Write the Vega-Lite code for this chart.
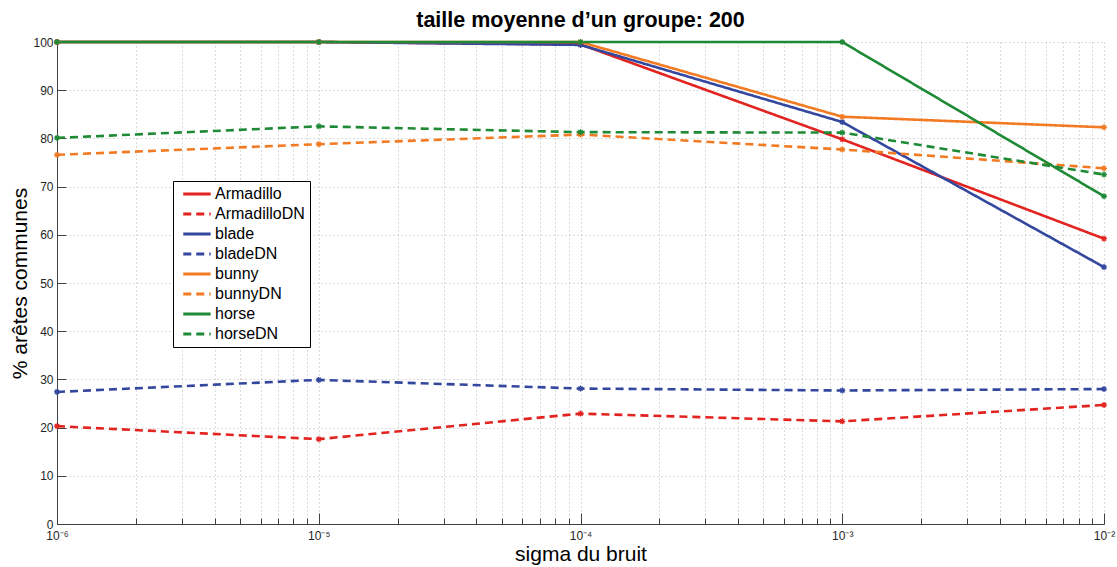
{
  "$schema": "https://vega.github.io/schema/vega-lite/v6.json",
  "autosize": {"type": "none"},
  "width": 1047,
  "height": 482,
  "padding": {"left": 57, "top": 42, "right": 13, "bottom": 43},
  "background": "white",
  "title": {"text": "taille moyenne d\u2019un groupe: 200", "fontSize": 21.5, "fontWeight": "bold", "font": "Liberation Sans", "color": "#000000", "anchor": "middle", "offset": 5},
  "config": {
    "view": {"stroke": null},
    "font": "Liberation Sans",
    "axis": {"domainColor": "#404040", "tickColor": "#404040", "labelColor": "#262626", "labelFont": "Liberation Sans", "titleFont": "Liberation Sans", "titleFontWeight": "normal", "titleColor": "#000000", "gridColor": "#b8b8b8", "gridDash": [1, 3], "gridWidth": 1}
  },
  "data": {"values": [
    {"sigma": 1e-6, "value": 100, "serie": "Armadillo"},
    {"sigma": 1e-5, "value": 100, "serie": "Armadillo"},
    {"sigma": 1e-4, "value": 99.5, "serie": "Armadillo"},
    {"sigma": 1e-3, "value": 79.8, "serie": "Armadillo"},
    {"sigma": 1e-2, "value": 59.2, "serie": "Armadillo"},
    {"sigma": 1e-6, "value": 20.3, "serie": "ArmadilloDN"},
    {"sigma": 1e-5, "value": 17.6, "serie": "ArmadilloDN"},
    {"sigma": 1e-4, "value": 22.9, "serie": "ArmadilloDN"},
    {"sigma": 1e-3, "value": 21.3, "serie": "ArmadilloDN"},
    {"sigma": 1e-2, "value": 24.7, "serie": "ArmadilloDN"},
    {"sigma": 1e-6, "value": 100, "serie": "blade"},
    {"sigma": 1e-5, "value": 100, "serie": "blade"},
    {"sigma": 1e-4, "value": 99.4, "serie": "blade"},
    {"sigma": 1e-3, "value": 83.4, "serie": "blade"},
    {"sigma": 1e-2, "value": 53.3, "serie": "blade"},
    {"sigma": 1e-6, "value": 27.4, "serie": "bladeDN"},
    {"sigma": 1e-5, "value": 29.9, "serie": "bladeDN"},
    {"sigma": 1e-4, "value": 28.1, "serie": "bladeDN"},
    {"sigma": 1e-3, "value": 27.7, "serie": "bladeDN"},
    {"sigma": 1e-2, "value": 28.0, "serie": "bladeDN"},
    {"sigma": 1e-6, "value": 100, "serie": "bunny"},
    {"sigma": 1e-5, "value": 100, "serie": "bunny"},
    {"sigma": 1e-4, "value": 100, "serie": "bunny"},
    {"sigma": 1e-3, "value": 84.5, "serie": "bunny"},
    {"sigma": 1e-2, "value": 82.3, "serie": "bunny"},
    {"sigma": 1e-6, "value": 76.6, "serie": "bunnyDN"},
    {"sigma": 1e-5, "value": 78.8, "serie": "bunnyDN"},
    {"sigma": 1e-4, "value": 80.8, "serie": "bunnyDN"},
    {"sigma": 1e-3, "value": 77.7, "serie": "bunnyDN"},
    {"sigma": 1e-2, "value": 73.8, "serie": "bunnyDN"},
    {"sigma": 1e-6, "value": 100, "serie": "horse"},
    {"sigma": 1e-5, "value": 100, "serie": "horse"},
    {"sigma": 1e-4, "value": 100, "serie": "horse"},
    {"sigma": 1e-3, "value": 100, "serie": "horse"},
    {"sigma": 1e-2, "value": 68.0, "serie": "horse"},
    {"sigma": 1e-6, "value": 80.1, "serie": "horseDN"},
    {"sigma": 1e-5, "value": 82.5, "serie": "horseDN"},
    {"sigma": 1e-4, "value": 81.3, "serie": "horseDN"},
    {"sigma": 1e-3, "value": 81.2, "serie": "horseDN"},
    {"sigma": 1e-2, "value": 72.5, "serie": "horseDN"}
  ]},
  "encoding": {
    "x": {"field": "sigma", "type": "quantitative",
      "scale": {"type": "log", "domain": [1e-6, 1e-2], "nice": false},
      "axis": {
        "values": [1e-6, 2e-6, 3e-6, 4e-6, 5e-6, 6e-6, 7e-6, 8e-6, 9e-6, 1e-5, 2e-5, 3e-5, 4e-5, 5e-5, 6e-5, 7e-5, 8e-5, 9e-5, 1e-4, 2e-4, 3e-4, 4e-4, 5e-4, 6e-4, 7e-4, 8e-4, 9e-4, 1e-3, 2e-3, 3e-3, 4e-3, 5e-3, 6e-3, 7e-3, 8e-3, 9e-3, 1e-2],
        "grid": true,
        "tickSize": {"condition": {"test": "abs(log(datum.value)/LN10 - round(log(datum.value)/LN10)) < 0.0001", "value": -11}, "value": -6},
        "labelExpr": "abs(log(datum.value)/LN10 - round(log(datum.value)/LN10)) < 0.0001 ? (round(log(datum.value)/LN10) == -6 ? '10\u207b\u2076' : round(log(datum.value)/LN10) == -5 ? '10\u207b\u2075' : round(log(datum.value)/LN10) == -4 ? '10\u207b\u2074' : round(log(datum.value)/LN10) == -3 ? '10\u207b\u00b3' : '10\u207b\u00b2') : ''",
        "labelFontSize": 12,
        "labelPadding": 17,
        "labelOverlap": false,
        "labelFlush": false,
        "title": "sigma du bruit",
        "titleFontSize": 21,
        "titlePadding": -3
      }},
    "y": {"field": "value", "type": "quantitative",
      "scale": {"domain": [0, 100], "nice": false},
      "axis": {
        "values": [0, 10, 20, 30, 40, 50, 60, 70, 80, 90, 100],
        "grid": true,
        "tickSize": -9,
        "labelFontSize": 12,
        "labelPadding": 13,
        "title": "% ar\u00eates communes",
        "titleFontSize": 21,
        "titlePadding": 2
      }},
    "color": {"field": "serie", "type": "nominal",
      "scale": {"domain": ["Armadillo", "ArmadilloDN", "blade", "bladeDN", "bunny", "bunnyDN", "horse", "horseDN"],
        "range": ["#e2231f", "#e2231f", "#33479f", "#33479f", "#f27a22", "#f27a22", "#1f8a36", "#1f8a36"]},
      "legend": {
        "title": null,
        "orient": "none",
        "legendX": 116,
        "legendY": 139,
        "strokeColor": "#000000",
        "fillColor": "#ffffff",
        "padding": 5,
        "symbolType": "M-1,0H9",
        "symbolSize": 30,
        "symbolStrokeWidth": 3,
        "labelFontSize": 16,
        "labelColor": "#000000",
        "labelOffset": 21,
        "rowPadding": 4,
        "labelFont": "Liberation Sans"
      }},
    "strokeDash": {"field": "serie", "type": "nominal",
      "scale": {"domain": ["Armadillo", "ArmadilloDN", "blade", "bladeDN", "bunny", "bunnyDN", "horse", "horseDN"],
        "range": [[1, 0], [8, 5], [1, 0], [8, 5], [1, 0], [8, 5], [1, 0], [8, 5]]},
      "legend": null}
  },
  "layer": [
    {"mark": {"type": "line", "strokeWidth": 2.6}},
    {"mark": {"type": "point", "shape": "M-1,0L1,0M0,-1L0,1M-0.7,-0.7L0.7,0.7M-0.7,0.7L0.7,-0.7", "size": 36, "filled": false, "strokeWidth": 1.3, "opacity": 1},
     "encoding": {"strokeDash": {"value": [1, 0]}}}
  ]
}
